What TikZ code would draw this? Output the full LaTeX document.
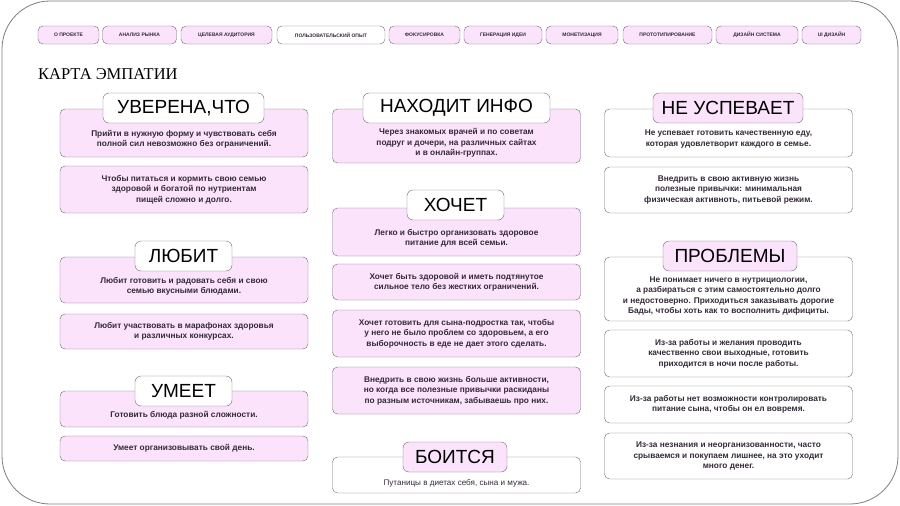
\documentclass[tikz,border=0pt]{standalone}
\usepackage{fontspec}
\setmainfont{Liberation Sans}
\newfontfamily\titlefont{Liberation Serif}
\usepackage{tikz}
\usetikzlibrary{positioning}
\usepackage{xcolor}
\definecolor{cardpink}{RGB}{251,227,251}
\definecolor{cardline}{RGB}{118,104,118}
\definecolor{inkdark}{RGB}{52,42,56}
\definecolor{framegray}{RGB}{125,125,125}

\begin{document}
\begin{tikzpicture}[x=1pt,y=-1pt,
  navbtn/.style={rectangle,rounded corners=5pt,draw=cardline,fill=cardpink,text=inkdark,
    font=\fontsize{5}{6}\selectfont\bfseries,minimum height=18pt,inner sep=0pt},
  card/.style={rectangle,rounded corners=5pt,draw=cardline,fill=cardpink,text=inkdark,
    font=\fontsize{8.3}{10.4}\selectfont\bfseries,minimum width=248pt,inner sep=0pt,align=center},
  cardw/.style={card,fill=white},
  cardtext/.style={text=inkdark,font=\fontsize{8.3}{10.4}\selectfont\bfseries,inner sep=0pt,align=center},
  head/.style={rectangle,rounded corners=6pt,draw=cardline,fill=white,text=black,
    font=\fontsize{19}{22}\selectfont,minimum height=30pt,inner sep=0pt},
  headp/.style={head,fill=cardpink}
]
\useasboundingbox (0,0) rectangle (900,506);
\draw[framegray,line width=0.8pt,rounded corners=48pt] (2,1) rectangle (898,504);

% Top: navigation
\node[navbtn,minimum width=61pt] (nav1) at (68.5,35) {О ПРОЕКТЕ};
\node[navbtn,minimum width=74pt] (nav2) at (139.5,35) {АНАЛИЗ РЫНКА};
\node[navbtn,minimum width=91pt] (nav3) at (226.5,35) {ЦЕЛЕВАЯ АУДИТОРИЯ};
\node[navbtn,fill=white,minimum width=108pt] (nav4) at (331,35) {ПОЛЬЗОВАТЕЛЬСКИЙ ОПЫТ};
\node[navbtn,minimum width=71pt] (nav5) at (424.5,35) {ФОКУСИРОВКА};
\node[navbtn,minimum width=78pt] (nav6) at (503,35) {ГЕНЕРАЦИЯ ИДЕИ};
\node[navbtn,minimum width=72pt] (nav7) at (582,35) {МОНЕТИЗАЦИЯ};
\node[navbtn,minimum width=89pt] (nav8) at (667.5,35) {ПРОТОТИПИРОВАНИЕ};
\node[navbtn,minimum width=82pt] (nav9) at (757,35) {ДИЗАЙН СИСТЕМА};
\node[navbtn,minimum width=59pt] (nav10) at (831.5,35) {UI ДИЗАЙН};

\node[font=\titlefont\fontsize{16.5}{18}\selectfont,anchor=base west,inner sep=0pt] (title) at (38,79) {КАРТА ЭМПАТИИ};

% Left: sure, loves, can
\node[card,minimum height=48pt] (sure1) at (184,133) {};
\node[cardtext] (sure1t) at (184,139.5) {Прийти в нужную форму и чувствовать себя\\полной сил невозможно без ограничений.};
\node[head,minimum width=161pt] (hsure) at (183.5,108) {УВЕРЕНА,ЧТО};
\node[card,minimum height=47pt] (sure2) at (184,189.5) {Чтобы питаться и кормить свою семью\\здоровой и богатой по нутриентам\\пищей сложно и долго.};

\node[card,minimum height=46pt] (love1) at (184,280) {};
\node[cardtext] (love1t) at (184,286.5) {Любит готовить и радовать себя и свою\\семью вкусными блюдами.};
\node[head,minimum width=97pt] (hlove) at (183.5,256) {ЛЮБИТ};
\node[card,minimum height=35pt] (love2) at (184,331.5) {Любит участвовать в марафонах здоровья\\и различных конкурсах.};

\node[card,minimum height=36pt] (can1) at (184,409) {};
\node[cardtext] (can1t) at (184,415) {Готовить блюда разной сложности.};
\node[head,minimum width=97pt] (hcan) at (183.5,391) {УМЕЕТ};
\node[card,minimum height=25pt] (can2) at (184,448.5) {Умеет организовывать свой день.};

% Middle: info, wants, fears
\node[card,minimum height=54pt] (info1) at (456.5,136) {};
\node[cardtext] (info1t) at (456.5,143) {Через знакомых врачей и по советам\\подруг и дочери, на различных сайтах\\и в онлайн-группах.};
\node[head,minimum width=187pt] (hinfo) at (456.5,108) {НАХОДИТ ИНФО};

\node[card,minimum height=48pt] (want1) at (456.5,232) {};
\node[cardtext] (want1t) at (456.5,238.5) {Легко и быстро организовать здоровое\\питание для всей семьи.};
\node[head,minimum width=97pt] (hwant) at (455.5,205) {ХОЧЕТ};
\node[card,minimum height=36pt] (want2) at (456.5,282) {Хочет быть здоровой и иметь подтянутое\\сильное тело без жестких ограничений.};
\node[card,minimum height=47pt] (want3) at (456.5,333.5) {Хочет готовить для сына-подростка так, чтобы\\у него не было проблем со здоровьем, а его\\выборочность в еде не дает этого сделать.};
\node[card,minimum height=47pt] (want4) at (456.5,390.5) {Внедрить в свою жизнь больше активности,\\но когда все полезные привычки раскиданы\\по разным источникам, забываешь про них.};

\node[cardw,minimum height=36pt] (fear1) at (456.5,475) {};
\node[cardtext,font=\fontsize{8.1}{9.5}\selectfont] (fear1t) at (456.5,483) {Путаницы в диетах себя, сына и мужа.};
\node[headp,minimum width=104pt] (hfear) at (455,457) {БОИТСЯ};

% Right: no time, problems
\node[cardw,minimum height=48pt] (late1) at (728.5,133) {};
\node[cardtext] (late1t) at (728.5,139) {Не успевает готовить качественную еду,\\которая удовлетворит каждого в семье.};
\node[headp,minimum width=150pt] (hlate) at (728,108) {НЕ УСПЕВАЕТ};
\node[cardw,minimum height=46pt] (late2) at (728.5,190) {Внедрить в свою активную жизнь\\полезные привычки: минимальная\\физическая активноть, питьевой режим.};

\node[cardw,minimum height=64pt] (prob1) at (728.5,289) {};
\node[cardtext] (prob1t) at (728.5,296) {Не понимает ничего в нутрициологии,\\а разбираться с этим самостоятельно долго\\и недостоверно. Приходиться заказывать дорогие\\Бады, чтобы хоть как то восполнить дифициты.};
\node[headp,minimum width=134pt] (hprob) at (730,256) {ПРОБЛЕМЫ};
\node[cardw,minimum height=47pt] (prob2) at (728.5,353.5) {Из-за работы и желания проводить\\качественно свои выходные, готовить\\приходится в ночи после работы.};
\node[cardw,minimum height=37pt] (prob3) at (728.5,404.5) {Из-за работы нет возможности контролировать\\питание сына, чтобы он ел вовремя.};
\node[cardw,minimum height=46pt] (prob4) at (728.5,456) {Из-за незнания и неорганизованности, часто\\срываемся и покупаем лишнее, на это уходит\\много денег.};

\end{tikzpicture}
\end{document}
